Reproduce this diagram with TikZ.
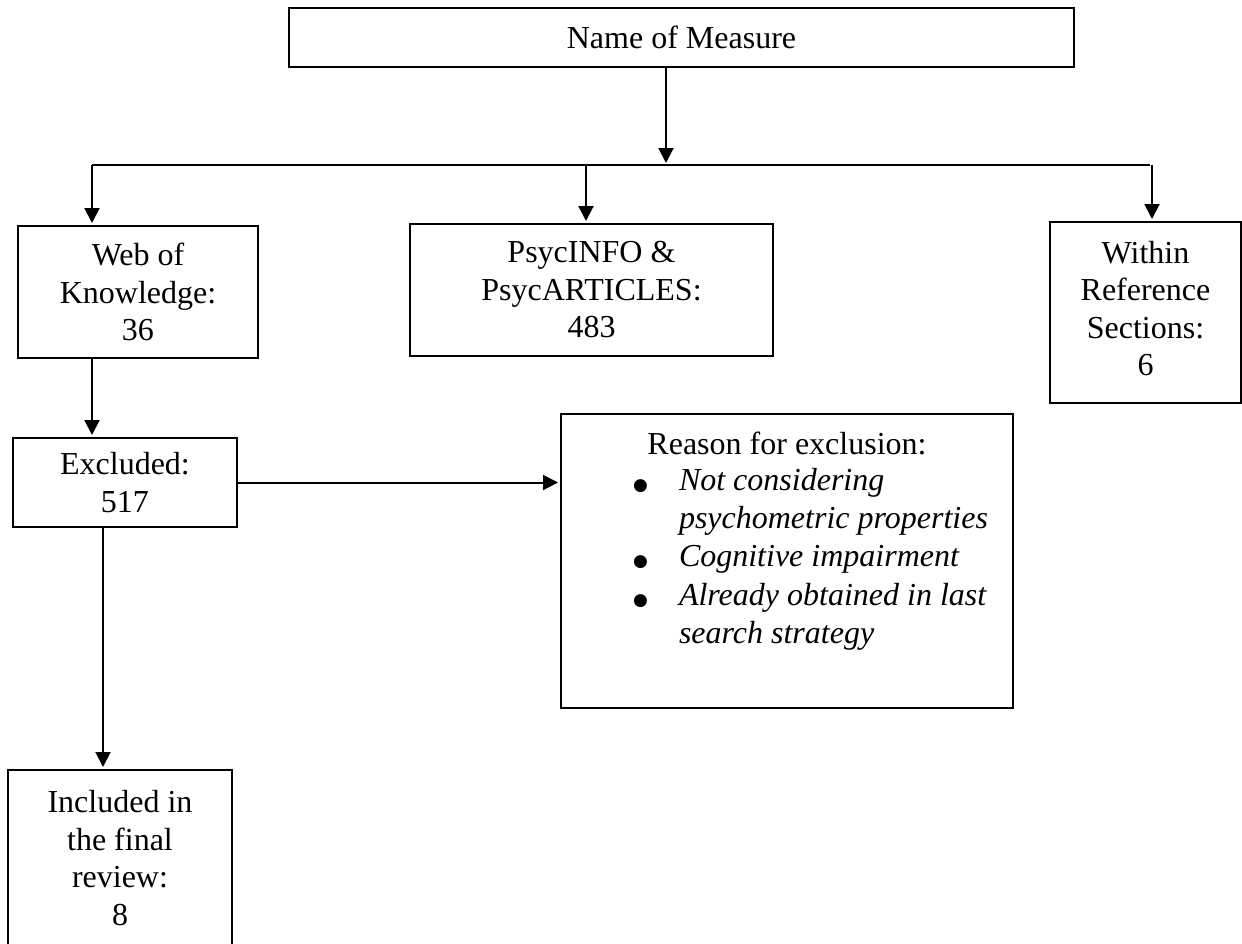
\documentclass[tikz,border=0pt]{standalone}
\usepackage{fontspec}
\setmainfont{Liberation Serif}
\newfontfamily\dejavu{DejaVu Sans}
\usetikzlibrary{arrows.meta}

\tikzset{
  box/.style={draw, rectangle, inner sep=0pt, align=center,
    font=\fontsize{16}{18.75}\selectfont},
  plain/.style={inner sep=0pt, font=\fontsize{16}{19.2}\selectfont}
}
\newcommand{\bigbullet}{{\dejavu\fontsize{8.5}{8.5}\selectfont ●}}

\begin{document}
\begin{tikzpicture}[x=0.5pt,y=-0.5pt,>={Triangle[length=7.5pt,width=7.5pt]},shorten >=1pt,line width=1pt]
      \useasboundingbox (0,0) rectangle (1242,943);

      \node[box,minimum width=392.5pt,minimum height=29.5pt] (name) at (681.5,37.5) {Name of Measure};

      \node[box,minimum width=120pt,minimum height=66pt] (web) at (138,292) {Web of\\Knowledge:\\36};
      \node[box,minimum width=181.5pt,minimum height=66pt] (psyc) at (591.5,290) {PsycINFO \&\\PsycARTICLES:\\483};
      \node[box,minimum width=95.5pt,minimum height=90.5pt,text depth=4pt] (within) at (1145.5,312.5) {Within\\Reference\\Sections:\\6};

      \node[box,minimum width=112pt,minimum height=44.5pt] (excl) at (125,482.5) {Excluded:\\517};
      \node[box,minimum width=226pt,minimum height=147pt] (reason) at (787,561) {};
      \node[plain,anchor=base] (rtitle) at (787,454) {Reason for exclusion:};
      \node[plain,anchor=base west] (rlist) at (632,490) {%
        \begin{tabular}[t]{@{}p{23pt}@{}l@{}}
          \bigbullet & \textit{Not considering}\\
                     & \textit{psychometric properties}\\
          \bigbullet & \textit{Cognitive impairment}\\
          \bigbullet & \textit{Already obtained in last}\\
                     & \textit{search strategy}
        \end{tabular}};

      \node[box,minimum width=112pt,minimum height=88pt] (incl) at (120,858) {Included in\\the final\\review:\\8};

      % branch line under the top box
      \coordinate (hl) at (92,165);
      \coordinate (hm) at (666,165);
      \coordinate (hp) at (586,165);
      \coordinate (hr) at (1152,165);
      \coordinate (ex) at (103,0);
      \draw (hl) -- (hr);

      \path[->,every edge/.append style={line width=1pt}]
      (hm |- name.south) edge (hm)
      (hl) edge (hl |- web.north)
      (hp) edge (hp |- psyc.north)
      (hr) edge (hr |- within.north)

      (hl |- web.south) edge (hl |- excl.north)
      (excl.east) edge (reason.west |- excl.east)
      (ex |- excl.south) edge (ex |- incl.north)
      ;
    \end{tikzpicture}
\end{document}
